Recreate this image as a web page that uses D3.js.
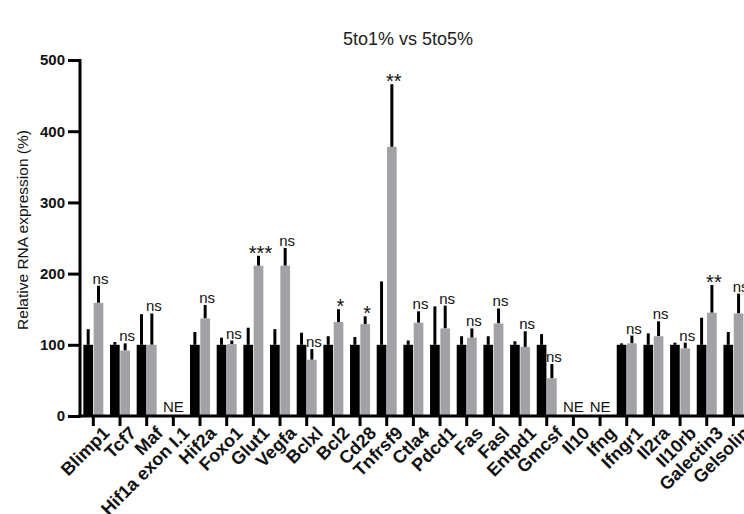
<!DOCTYPE html>
<html>
<head>
<meta charset="utf-8">
<script src="https://cdn.jsdelivr.net/npm/d3@7/dist/d3.min.js"></script>
<style>
  html, body { margin: 0; padding: 0; background: #fff; }
  svg { display: block; }
  text { font-family: "Liberation Sans", Arial, sans-serif; }
</style>
</head>
<body>
<svg id="chart" width="744" height="514"></svg>
<script>
// ---- data ----
const categories = ["Blimp1","Tcf7","Maf","Hif1a exon I.1","Hif2a","Foxo1","Glut1","Vegfa","Bclxl","Bcl2","Cd28","Tnfrsf9","Ctla4","Pdcd1","Fas","Fasl","Entpd1","Gmcsf","Il10","Ifng","Ifngr1","Il2ra","Il10rb","Galectin3","Gelsolin"];
// black bars (reference condition, normalised to 100 %)
const blackMean = [100,100,100,null,100,100,100,100,100,100,100,100,100,100,100,100,100,100,null,null,100,100,100,100,100];
const blackErrTop = [122,104,143,null,118,110,124,122,117,112,111,189,106,154,112,112,105,115,null,null,102,116,103,138,118];
// grey bars
const greyMean = [159,92,100,null,137,101,211,211,79,132,129,378,131,123,110,130,97,53,null,null,102,112,95,145,144];
const greyErrTop = [183,102,144,null,156,106,225,236,94,150,140,466,147,155,123,151,119,73,null,null,113,133,103,184,172];
// significance labels
const sigLabels = ["ns","ns","ns","NE","ns","ns","***","ns","ns","*","*","**","ns","ns","ns","ns","ns","ns","NE","NE","ns","ns","ns","**","ns"];
const yTicks = [0,100,200,300,400,500];
const titleText = "5to1% vs 5to5%";
const yLabel = "Relative RNA expression (%)";

// ---- drawing ----
const svg = d3.select("#chart");
const y0 = 416, yTop = 60, xLeft = 80, step = 26.67;

const x = d3.scaleBand().domain(categories)
  .range([xLeft, xLeft + step * categories.length]).padding(0);
const sub = d3.scaleBand().domain(["black","grey"]).range([-10, 10]).paddingInner(0.06);
const y = d3.scaleLinear().domain([0, 500]).range([y0, yTop]);
const cx = c => x(c) + x.bandwidth() / 2;

const greyColor = "#a2a2a6";

// title
svg.append("text").attr("x", 408).attr("y", 45).attr("text-anchor", "middle")
  .attr("font-size", 18).attr("fill", "#222").text(titleText);

// y-axis label
svg.append("text").attr("transform", "translate(28,230) rotate(-90)")
  .attr("text-anchor", "middle").attr("font-size", 15.5).attr("fill", "#111").text(yLabel);

// bars
const rows = categories.map((c, i) => ({c, i}));
const g = svg.append("g");

rows.forEach(({c, i}) => {
  if (blackMean[i] != null) {
    g.append("line").attr("x1", cx(c) + sub("black") + sub.bandwidth()/2).attr("x2", cx(c) + sub("black") + sub.bandwidth()/2)
      .attr("y1", y(blackMean[i])).attr("y2", y(blackErrTop[i]))
      .attr("stroke", "#000").attr("stroke-width", 3);
    g.append("rect").attr("x", cx(c) + sub("black")).attr("width", sub.bandwidth())
      .attr("y", y(blackMean[i])).attr("height", y(0) - y(blackMean[i])).attr("fill", "#000");
  }
  if (greyMean[i] != null) {
    g.append("line").attr("x1", cx(c) + sub("grey") + sub.bandwidth()/2).attr("x2", cx(c) + sub("grey") + sub.bandwidth()/2)
      .attr("y1", y(greyMean[i])).attr("y2", y(greyErrTop[i]))
      .attr("stroke", "#000").attr("stroke-width", 3);
    g.append("rect").attr("x", cx(c) + sub("grey")).attr("width", sub.bandwidth())
      .attr("y", y(greyMean[i])).attr("height", y(0) - y(greyMean[i])).attr("fill", greyColor);
  }
  const lab = sigLabels[i];
  if (lab === "NE") {
    g.append("text").attr("x", cx(c)).attr("y", y0 - 4).attr("text-anchor", "middle")
      .attr("font-size", 15).attr("fill", "#111").text(lab);
  } else if (lab) {
    const isStar = lab.indexOf("*") >= 0;
    g.append("text").attr("x", cx(c) + sub("grey") + sub.bandwidth()/2 + 2)
      .attr("y", y(greyErrTop[i]) - (isStar ? -4 : 2))
      .attr("text-anchor", "middle").attr("font-size", isStar ? 20 : 15)
      .attr("fill", "#111").text(lab);
  }
});

// axes
const yAxis = d3.axisLeft(y).tickValues(yTicks).tickSize(12).tickPadding(3);
const ya = svg.append("g").attr("transform", `translate(${xLeft},0)`).call(yAxis);
ya.select(".domain").attr("stroke-width", 3).attr("d", `M0,${y(500)-1}V${y0+1.5}`);
ya.selectAll(".tick line").attr("stroke-width", 3);
ya.selectAll(".tick text").attr("font-size", 15).attr("font-weight", "bold")
  .attr("font-family", "Liberation Sans, Arial, sans-serif").attr("fill", "#111");

const xAxis = d3.axisBottom(x).tickSize(10).tickSizeOuter(0);
const xa = svg.append("g").attr("transform", `translate(0,${y0})`).call(xAxis);
xa.select(".domain").attr("stroke-width", 3).attr("d", `M${xLeft - 1.5},0H744`);
xa.selectAll(".tick line").attr("stroke-width", 3);
xa.selectAll(".tick text")
  .attr("font-size", 18).attr("font-weight", "bold")
  .attr("font-family", "Liberation Sans, Arial, sans-serif").attr("fill", "#111")
  .attr("text-anchor", "end")
  .attr("transform", "translate(4,5) rotate(-45)")
  .attr("dy", "0.71em").attr("y", 6).attr("x", 0);
</script>
</body>
</html>
